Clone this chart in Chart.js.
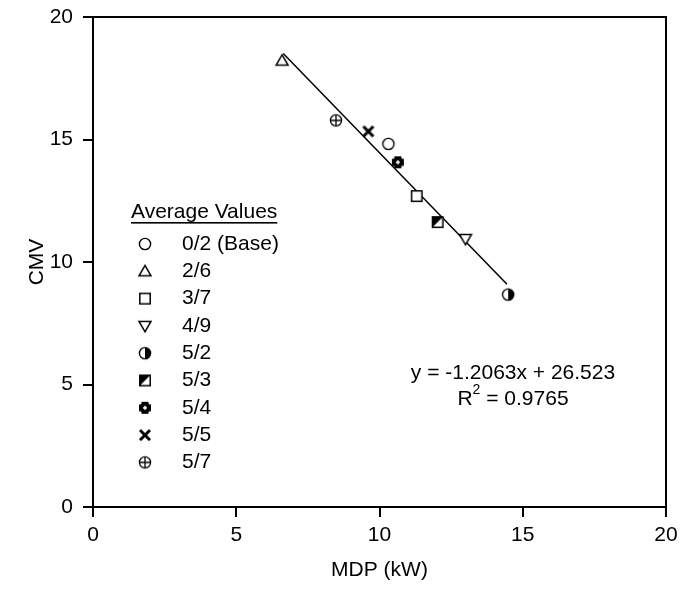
<!DOCTYPE html>
<html>
<head>
<meta charset="utf-8">
<script src="https://cdn.jsdelivr.net/npm/chart.js@4.4.1/dist/chart.umd.min.js"></script>
<style>
html,body{margin:0;padding:0;background:#fff;}
#wrap{width:680px;height:589px;}
</style>
</head>
<body>
<div id="wrap"><canvas id="c" width="680" height="589"></canvas></div>
<script>
// ---- data ----
const seriesNames = ['0/2 (Base)', '2/6', '3/7', '4/9', '5/2', '5/3', '5/4', '5/5', '5/7'];
const mdpValues = [10.31, 6.60, 11.30, 13.00, 14.49, 12.03, 10.64, 9.61, 8.48];
const cmvValues = [14.82, 18.22, 12.69, 10.94, 8.67, 11.63, 14.07, 15.33, 15.78];
const fitX = [6.64, 14.45];
const fitY = [18.51, 9.09];
const xTickValues = [0, 5, 10, 15, 20];
const yTickValues = [0, 5, 10, 15, 20];
const legendTitle = 'Average Values';
const equationLines = ['y = -1.2063x + 26.523', 'R', '2', ' = 0.9765'];
const xTitle = 'MDP (kW)';
const yTitle = 'CMV';

const FONT = '"Liberation Sans", Arial, sans-serif';
const FS = 21;

// ---- marker images ----
function mk(draw) {
  const c = document.createElement('canvas');
  c.width = 16; c.height = 16;
  const g = c.getContext('2d');
  g.translate(8, 8);
  g.strokeStyle = '#000'; g.fillStyle = '#fff';
  draw(g);
  return c;
}
const markerStyles = [
  mk(g => { g.lineWidth = 1.4; g.beginPath(); g.arc(0, 0, 5.6, 0, Math.PI*2); g.fill(); g.stroke(); }),
  mk(g => { g.lineWidth = 1.5; g.beginPath(); g.moveTo(0, -5.8); g.lineTo(6, 4.6); g.lineTo(-6, 4.6); g.closePath(); g.fill(); g.stroke(); }),
  mk(g => { g.lineWidth = 1.5; g.beginPath(); g.rect(-5.2, -5.2, 10.4, 10.4); g.fill(); g.stroke(); }),
  mk(g => { g.lineWidth = 1.5; g.beginPath(); g.moveTo(0, 5.8); g.lineTo(6, -4.6); g.lineTo(-6, -4.6); g.closePath(); g.fill(); g.stroke(); }),
  mk(g => { g.lineWidth = 1.4; g.beginPath(); g.arc(0, 0, 5.6, 0, Math.PI*2); g.fill(); g.stroke();
            g.fillStyle = '#000'; g.beginPath(); g.arc(0, 0, 5.6, -Math.PI/2, Math.PI/2); g.closePath(); g.fill(); }),
  mk(g => { g.lineWidth = 1.5; g.beginPath(); g.rect(-5.2, -5.2, 10.4, 10.4); g.fill(); g.stroke();
            g.fillStyle = '#000'; g.beginPath(); g.moveTo(-5.2, -5.2); g.lineTo(5.2, -5.2); g.lineTo(-5.2, 5.2); g.closePath(); g.fill(); }),
  mk(g => { g.fillStyle = '#000';
            g.fillRect(-6, -3.5, 12, 7); g.fillRect(-3.5, -6, 7, 12);
            g.beginPath(); g.arc(0, 0, 5.2, 0, Math.PI*2); g.fill();
            g.fillStyle = '#fff'; g.fillRect(-2, -0.75, 4, 1.5); g.fillRect(-0.75, -2, 1.5, 4); }),
  mk(g => { g.lineWidth = 3; g.lineCap = 'butt'; g.beginPath();
            g.moveTo(-5, -5); g.lineTo(5, 5); g.moveTo(5, -5); g.lineTo(-5, 5); g.stroke(); }),
  mk(g => { g.lineWidth = 1.3; g.beginPath(); g.arc(0, 0, 5.6, 0, Math.PI*2); g.fill(); g.stroke();
            g.beginPath(); g.moveTo(-5.6, 0); g.lineTo(5.6, 0); g.moveTo(0, -5.6); g.lineTo(0, 5.6); g.stroke(); })
];

const datasets = seriesNames.map((name, i) => ({
  type: 'scatter',
  label: name,
  data: [{x: mdpValues[i], y: cmvValues[i]}],
  pointStyle: markerStyles[i],
  pointRadius: 6,
  pointHoverRadius: 6
}));
datasets.push({
  type: 'line',
  label: 'fit',
  data: fitX.map((x, i) => ({x: x, y: fitY[i]})),
  borderColor: '#000',
  borderWidth: 1.5,
  pointRadius: 0,
  fill: false,
  tension: 0
});

// ---- plugins for frame, legend and equation ----
const framePlugin = {
  id: 'frame',
  afterDatasetsDraw(chart) {
    const {ctx, chartArea: a} = chart;
    ctx.save();
    ctx.strokeStyle = '#000';
    ctx.lineWidth = 2;
    ctx.beginPath();
    ctx.moveTo(a.left, a.top); ctx.lineTo(a.right, a.top); ctx.lineTo(a.right, a.bottom);
    ctx.stroke();
    ctx.restore();
  }
};

const notesPlugin = {
  id: 'notes',
  afterDraw(chart) {
    const {ctx} = chart;
    ctx.save();
    ctx.fillStyle = '#000';
    ctx.font = FS + 'px ' + FONT;
    ctx.textBaseline = 'middle';
    // legend title, underlined
    ctx.textAlign = 'left';
    const lx = 131, ly = 212;
    ctx.fillText(legendTitle, lx, ly);
    const w = ctx.measureText(legendTitle).width;
    ctx.fillRect(lx, ly + 10, w, 1.6);
    // legend entries
    seriesNames.forEach((name, i) => {
      const y = 244 + i * 27.3;
      ctx.drawImage(markerStyles[i], 145 - 8, y - 8);
      ctx.fillText(name, 182, y);
    });
    // equation
    const cx = 513;
    ctx.textAlign = 'center';
    ctx.fillText(equationLines[0], cx, 373);
    const r = equationLines[1], sup = equationLines[2], rest = equationLines[3];
    const wr = ctx.measureText(r).width, wrest = ctx.measureText(rest).width;
    ctx.font = '14px ' + FONT;
    const ws = ctx.measureText(sup).width;
    const total = wr + ws + wrest;
    const x0 = cx - total / 2;
    ctx.textAlign = 'left';
    ctx.font = FS + 'px ' + FONT;
    ctx.fillText(r, x0, 399);
    ctx.font = '14px ' + FONT;
    ctx.fillText(sup, x0 + wr, 390);
    ctx.font = FS + 'px ' + FONT;
    ctx.fillText(rest, x0 + wr + ws, 399);
    ctx.restore();
  }
};

const tickFont = {family: FONT, size: FS};
const titleFont = {family: FONT, size: FS};

new Chart(document.getElementById('c'), {
  data: {datasets: datasets},
  options: {
    responsive: false,
    animation: false,
    events: [],
    layout: {padding: {top: 17, right: 14, left: 0, bottom: 0}},
    plugins: {legend: {display: false}, tooltip: {enabled: false}},
    scales: {
      x: {
        type: 'linear', position: 'bottom', min: 0, max: 20,
        afterBuildTicks: s => { s.ticks = xTickValues.map(v => ({value: v})); },
        afterFit: s => { s.height = 82; s.paddingLeft = 0; s.paddingRight = 0; },
        ticks: {color: '#000', font: tickFont, padding: 6, maxRotation: 0},
        grid: {display: true, drawOnChartArea: false, drawTicks: true, tickLength: 10, color: '#000', lineWidth: 2},
        border: {display: true, color: '#000', width: 2},
        title: {display: true, text: xTitle, color: '#000', font: titleFont, padding: {top: 0, bottom: 6}}
      },
      y: {
        type: 'linear', position: 'left', min: 0, max: 20,
        afterBuildTicks: s => { s.ticks = yTickValues.map(v => ({value: v})); },
        afterFit: s => { s.width = 93; s.paddingTop = 0; s.paddingBottom = 0; },
        ticks: {color: '#000', font: tickFont, padding: 10},
        grid: {display: true, drawOnChartArea: false, drawTicks: true, tickLength: 10, color: '#000', lineWidth: 2},
        border: {display: true, color: '#000', width: 2},
        title: {display: true, text: yTitle, color: '#000', font: titleFont, padding: {top: 25, bottom: 0}}
      }
    }
  },
  plugins: [framePlugin, notesPlugin]
});
</script>
</body>
</html>
